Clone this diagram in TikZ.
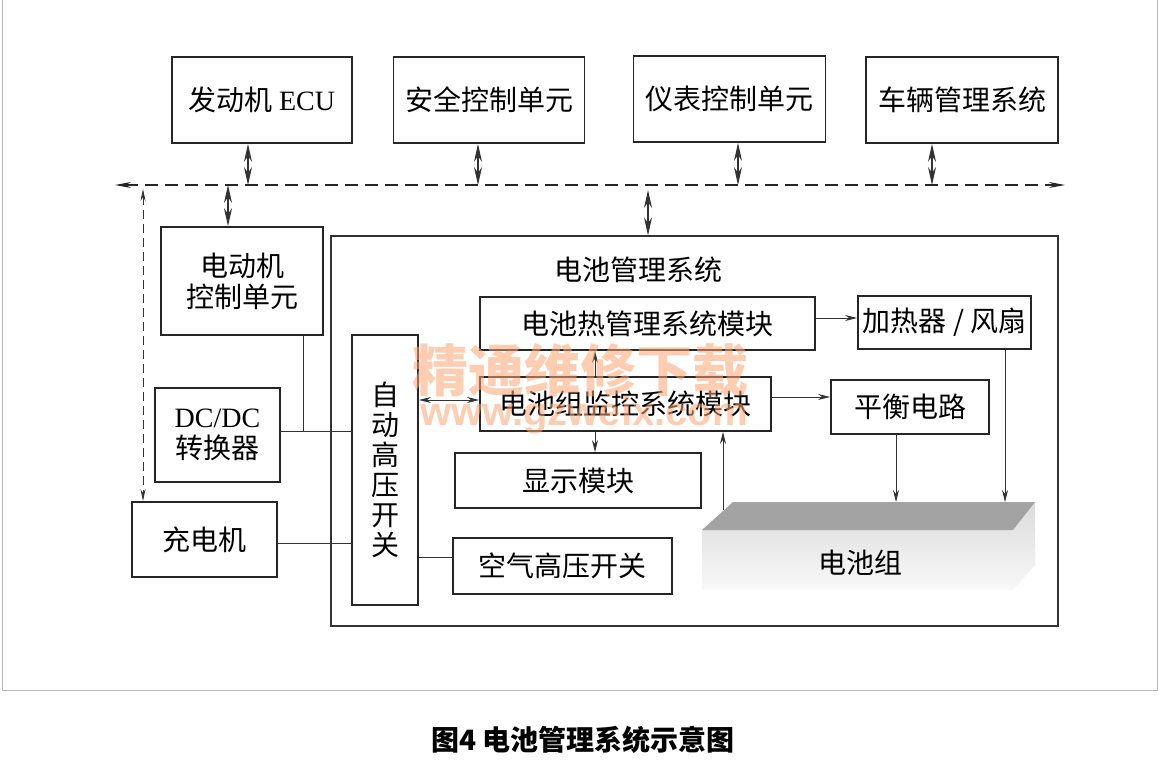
\documentclass[tikz,border=0pt]{standalone}
\usepackage{fontspec}
\setmainfont{Liberation Serif}
\newfontfamily\cjk{Noto Sans CJK SC}
\newfontfamily\wmsans{Liberation Sans}
\usetikzlibrary{arrows.meta}
\newcommand\boxfont{\cjk\fontsize{28}{31}\selectfont}
\begin{document}
\begin{tikzpicture}[x=1pt,y=-1pt,
  box/.style={draw=black!85, line width=1.8pt, inner sep=0pt, align=center, font=\boxfont},
  conn/.style={draw=black!80, line width=0.9pt},
  arr/.style={conn, -{Stealth[length=12pt,width=6pt]}},
  dblsmall/.style={conn, {Stealth[length=12pt,width=6pt]}-{Stealth[length=12pt,width=6pt]}},
  dbl/.style={conn, line width=1.1pt, {Stealth[length=18pt,width=8pt]}-{Stealth[length=18pt,width=8pt]}},
  busline/.style={draw=black!85, line width=1.2pt, dash pattern=on 13pt off 7pt,
     {Stealth[length=16pt,width=6pt]}-{Stealth[length=16pt,width=6pt]}},
  wm/.style={text=orange!75!red!55, text opacity=0.55, inner sep=0pt}
]
\useasboundingbox (0,0) rectangle (1159,771);
\fill[white] (0,0) rectangle (1159,771);
% outer frame
\draw[gray!55, line width=1pt] (2,0) -- (2,690) -- (1157,690) -- (1157,0);

% top boxes
\node[box, minimum width=180, minimum height=86] (ecu) at (262,100) {发动机 {\rmfamily ECU}};
\node[box, minimum width=191, minimum height=86] (safe) at (489,100) {安全控制单元};
\node[box, minimum width=192, minimum height=86] (inst) at (729.5,99) {仪表控制单元};
\node[box, minimum width=192, minimum height=86] (veh) at (962,100) {车辆管理系统};

% bus
\coordinate (busL) at (115,185);
\coordinate (busR) at (1065,185);
\draw[busline] (busL) -- (busR);
\coordinate (be) at (248,185);
\coordinate (bs) at (478,185);
\coordinate (bi) at (738,185);
\coordinate (bv) at (932,185);
\draw[dbl] (ecu.south -| be) -- (be);
\draw[dbl] (safe.south -| bs) -- (bs);
\draw[dbl] (inst.south -| bi) -- (bi);
\draw[dbl] (veh.south -| bv) -- (bv);

% left column
\node[box, minimum width=162, minimum height=108] (motor) at (242,281) {电动机\\控制单元};
\node[box, minimum width=125, minimum height=94] (dcdc) at (217.5,435) {{\rmfamily DC/DC}\\转换器};
\node[box, minimum width=145, minimum height=75] (charger) at (204.5,539.5) {充电机};
\node[box, minimum width=66, minimum height=270, font=\cjk\fontsize{28}{30}\selectfont] (ahv) at (385,470) {自\\动\\高\\压\\开\\关};

% BMS frame
\node[draw=black!80, line width=1.3pt, minimum width=727, minimum height=390, inner sep=0pt] (bms) at (694.5,431) {};
\node[font=\boxfont, inner sep=0pt] (bmslabel) at (638,270) {电池管理系统};

\coordinate (bm) at (228,185);
\coordinate (bb) at (648,190);
\coordinate (bc) at (143,189);
\draw[dbl] (bm) -- (motor.north -| bm);
\draw[dbl] (bb) -- (bms.north -| bb);
\draw[conn, dash pattern=on 9pt off 5pt, {Stealth[length=12pt,width=5pt]}-{Stealth[length=12pt,width=5pt]}] (bc) -- (charger.north -| bc);

% inner boxes
\node[box, minimum width=335, minimum height=53] (thermal) at (647.5,323.5) {电池热管理系统模块};
\node[box, minimum width=173, minimum height=53] (heater) at (944.5,322.5) {加热器 / 风扇};
\node[box, minimum width=291, minimum height=54] (monitor) at (625.5,404) {电池组监控系统模块};
\node[box, minimum width=158, minimum height=54] (balance) at (910,407) {平衡电路};
\node[box, minimum width=246, minimum height=55] (display) at (578,480.5) {显示模块};
\node[box, minimum width=219, minimum height=56] (air) at (562.5,566) {空气高压开关};

% battery pack
\shade[top color=gray!28, bottom color=gray!5] (702,530) -- (1013,530) -- (1035,502) -- (1035,565) -- (1013,590) -- (702,590) -- cycle;
\fill[gray!72] (733,502) -- (1035,502) -- (1013,530) -- (702,530) -- cycle;
\node[font=\boxfont, inner sep=0pt] (pack) at (860,563) {电池组};

% left connections
\coordinate (j1) at (303,431);
\coordinate (j2) at (0,543);
\coordinate (j3) at (0,557);
\draw[conn] (motor.south -| j1) -- (j1);
\draw[conn] (dcdc.east |- j1) -- (ahv.west |- j1);
\draw[conn] (charger.east |- j2) -- (ahv.west |- j2);
\draw[conn] (ahv.east |- j3) -- (air.west |- j3);

% inner connections
\coordinate (t1) at (0,318);
\coordinate (t2) at (0,397);
\coordinate (t3) at (0,400);
\coordinate (m1) at (595,0);
\coordinate (b1) at (896,502);
\coordinate (h1) at (1005,502);
\coordinate (p1) at (723,510);
\draw[arr] (thermal.east |- t1) -- (heater.west |- t1);
\draw[arr] (monitor.east |- t2) -- (balance.west |- t2);
\draw[dblsmall] (ahv.east |- t3) -- (monitor.west |- t3);
\draw[arr] (monitor.north -| m1) -- (thermal.south -| m1);
\draw[arr] (monitor.south -| m1) -- (display.north -| m1);
\draw[arr] (balance.south -| b1) -- (b1);
\draw[arr] (heater.south -| h1) -- (h1);
\draw[arr] (p1) -- (monitor.south -| p1);

% watermark
\node[wm, font=\cjk\bfseries\fontsize{56}{56}\selectfont] (wm1) at (580,370) {精通维修下载};
\node[wm, font=\wmsans\bfseries\fontsize{40}{40}\selectfont] (wm2) at (584,415) {www.gzweix.com};

% caption
\node[font=\cjk\bfseries\fontsize{28}{30}\selectfont, inner sep=0pt] (cap) at (583,740) {图4 电池管理系统示意图};
\end{tikzpicture}
\end{document}
